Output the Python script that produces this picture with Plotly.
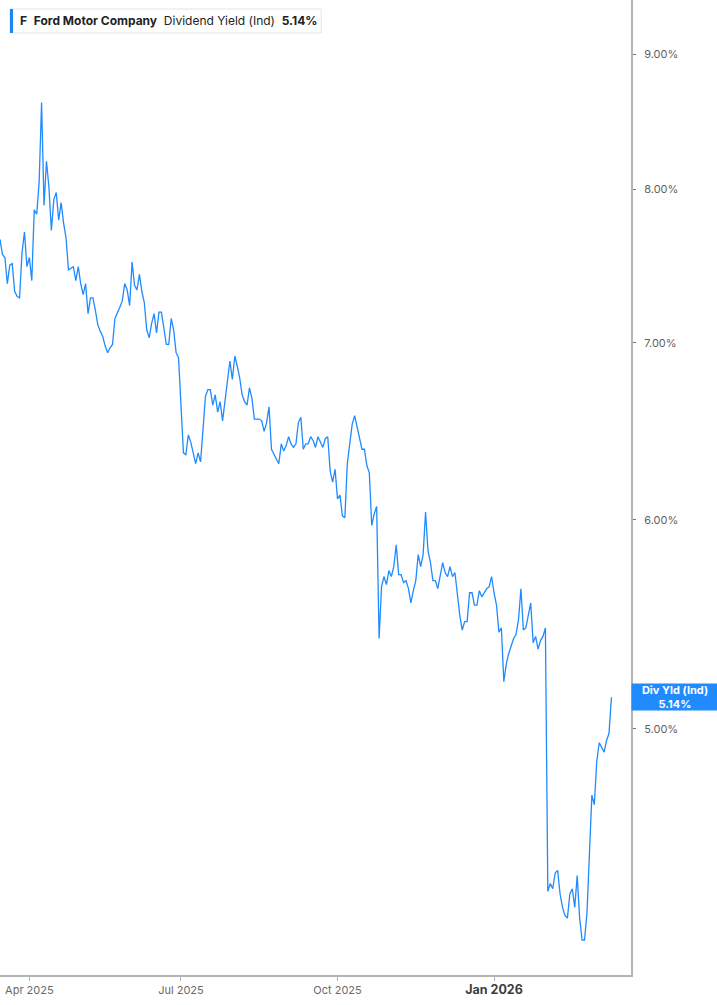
"""
Ford Motor Company - indicated dividend yield, one year of daily closes.
Right-side log axis, trading-day x axis (weekends and holidays skipped).
"""

import numpy as np
import pandas as pd
import plotly.graph_objects as go

TICKER = "F"
COMPANY = "Ford Motor Company"
METRIC = "Dividend Yield (Ind)"

# NYSE closures inside the window
HOLIDAYS = [
    "2025-04-18", "2025-05-26", "2025-06-19", "2025-07-04", "2025-09-01",
    "2025-11-27", "2025-12-25", "2026-01-01", "2026-01-19", "2026-02-16",
]

# daily dividend yield in % (Mar 14 2025 -> Mar 13 2026)
yield_pct = [
    7.66, 7.56, 7.54, 7.37, 7.49, 7.50, 7.32, 7.29, 7.28, 7.57,
    7.71, 7.48, 7.54, 7.39, 7.86, 7.83, 8.05, 8.63, 7.89, 8.20,
    8.02, 7.72, 7.93, 7.98, 7.79, 7.91, 7.77, 7.67, 7.46, 7.47,
    7.48, 7.39, 7.48, 7.37, 7.30, 7.37, 7.18, 7.28, 7.28, 7.20,
    7.11, 7.07, 7.04, 6.98, 6.94, 6.97, 6.99, 7.15, 7.18, 7.22,
    7.26, 7.37, 7.33, 7.23, 7.51, 7.36, 7.33, 7.43, 7.32, 7.25,
    7.08, 7.03, 7.12, 7.18, 7.06, 7.19, 7.19, 7.10, 6.99, 6.99,
    7.15, 7.08, 6.94, 6.91, 6.62, 6.36, 6.35, 6.46, 6.42, 6.35,
    6.30, 6.36, 6.31, 6.49, 6.68, 6.72, 6.72, 6.63, 6.69, 6.59,
    6.65, 6.54, 6.65, 6.76, 6.89, 6.78, 6.92, 6.86, 6.79, 6.69,
    6.65, 6.63, 6.73, 6.67, 6.55, 6.55, 6.55, 6.54, 6.48, 6.53,
    6.62, 6.38, 6.35, 6.33, 6.30, 6.41, 6.37, 6.40, 6.45, 6.41,
    6.39, 6.41, 6.53, 6.56, 6.38, 6.41, 6.41, 6.45, 6.43, 6.39,
    6.45, 6.42, 6.39, 6.44, 6.45, 6.26, 6.20, 6.27, 6.11, 6.13,
    6.02, 6.01, 6.30, 6.41, 6.52, 6.57, 6.50, 6.44, 6.38, 6.38,
    6.29, 6.25, 5.97, 6.03, 6.07, 5.41, 5.66, 5.71, 5.67, 5.74,
    5.71, 5.76, 5.87, 5.72, 5.72, 5.68, 5.69, 5.65, 5.58, 5.64,
    5.69, 5.82, 5.76, 5.82, 6.04, 5.84, 5.78, 5.69, 5.69, 5.65,
    5.71, 5.78, 5.73, 5.71, 5.76, 5.71, 5.73, 5.61, 5.52, 5.45,
    5.49, 5.49, 5.63, 5.63, 5.57, 5.57, 5.64, 5.61, 5.63, 5.65,
    5.66, 5.71, 5.63, 5.57, 5.44, 5.46, 5.21, 5.29, 5.34, 5.37,
    5.41, 5.43, 5.50, 5.65, 5.45, 5.46, 5.52, 5.58, 5.39, 5.42,
    5.36, 5.40, 5.42, 5.46, 4.34, 4.37, 4.35, 4.41, 4.42, 4.33,
    4.28, 4.25, 4.24, 4.33, 4.35, 4.28, 4.40, 4.24, 4.16, 4.16,
    4.26, 4.48, 4.72, 4.68, 4.86, 4.94, 4.92, 4.90, 4.95, 4.98,
    5.14,
]

y_ticks = [5, 6, 7, 8, 9]
y_tick_text = ["5.00%", "6.00%", "7.00%", "8.00%", "9.00%"]
x_ticks = ["2025-04-01", "2025-07-01", "2025-10-01", "2026-01-02"]
x_tick_text = [
    "Apr 2025", "Jul 2025", "Oct 2025",
    "<span style='font-size:12.5px;color:#3d3d3d'><b>Jan 2026</b></span>",
]

LINE = "#1f8bff"
AXIS = "#b4b4b4"

dates = pd.bdate_range(end="2026-03-13", periods=len(yield_pct), freq="C", holidays=HOLIDAYS)
last = yield_pct[-1]

fig = go.Figure()
fig.add_trace(go.Scatter(
    x=dates, y=yield_pct, mode="lines",
    line=dict(color=LINE, width=1.3),
    hoverinfo="skip", showlegend=False,
))

# header "legend" box
fig.add_shape(type="rect", xref="paper", yref="paper",
              x0=0.0158, x1=0.509, y0=0.9662, y1=0.9908,
              line=dict(color="#e4e4e4", width=1), fillcolor="white", layer="above")
fig.add_shape(type="rect", xref="paper", yref="paper",
              x0=0.0158, x1=0.0206, y0=0.9662, y1=0.9908,
              line=dict(width=0), fillcolor="#1a87f5", layer="above")
fig.add_annotation(
    xref="paper", yref="paper", x=0.028, y=0.9785, xanchor="left", yanchor="middle",
    showarrow=False, font=dict(family="Inter", size=12, color="#222"),
    text=f"<b>{TICKER}</b>  <b>{COMPANY}</b>  {METRIC}  <b>{last:.2f}%</b>",
)

# last-value flag on the right axis
fig.add_annotation(
    xref="paper", yref="y", x=1, y=np.log10(last), xanchor="left", yanchor="middle",
    showarrow=False, bgcolor="#1f8bff", width=86, height=26, borderpad=0, align="center",
    font=dict(family="Inter", size=11, color="white"),
    text=f"<b>Div Yld (Ind)</b><br><b>{last:.2f}%</b>",
)

fig.update_layout(
    width=717, height=1005,
    margin=dict(l=0, r=86, t=0, b=30),
    paper_bgcolor="white", plot_bgcolor="white",
    font=dict(family="Inter", size=11, color="#666"),
    xaxis=dict(
        range=["2025-03-14", "2026-03-25"],
        rangebreaks=[dict(bounds=["sat", "mon"]), dict(values=HOLIDAYS)],
        tickmode="array", tickvals=x_ticks, ticktext=x_tick_text,
        ticks="outside", ticklen=4, tickcolor=AXIS, tickwidth=1,
        showline=True, linecolor=AXIS, linewidth=2,
        showgrid=False, zeroline=False,
        tickfont=dict(family="Inter", size=11, color="#6a6a6a"),
    ),
    yaxis=dict(
        type="log", side="right",
        range=[np.log10(4.035), np.log10(9.437)],
        tickmode="array", tickvals=y_ticks, ticktext=y_tick_text,
        ticks="outside", ticklen=3, tickcolor="#777", ticklabelstandoff=6,
        showline=True, linecolor=AXIS, linewidth=2,
        showgrid=False, zeroline=False,
        tickfont=dict(family="Inter", size=11, color="#5f5f5f"),
    ),
)

# drop the browser's default body margin so the figure fills the window
fig.write_html(
    "out.html",
    config={"displayModeBar": False},
    post_script="document.body.style.margin='0';",
)
